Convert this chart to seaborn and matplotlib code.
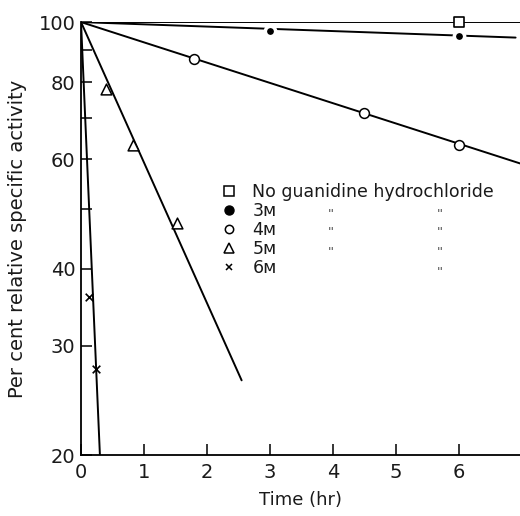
import matplotlib
matplotlib.use("Agg")
import matplotlib.pyplot as plt
import seaborn as sns
import pandas as pd
from matplotlib.lines import Line2D
from matplotlib.ticker import FixedLocator, NullFormatter, FixedFormatter

# ---- data ----
series = ["none", "3M", "4M", "5M", "6M"]
legend_labels = ["No guanidine hydrochloride", "3м", "4м", "5м", "6м"]

pts_none_x = [6.0]
pts_none_y = [100.0]
pts_3m_x = [3.0, 6.0]
pts_3m_y = [96.7, 94.9]
pts_4m_x = [1.8, 4.5, 6.0]
pts_4m_y = [87.1, 71.3, 63.3]
pts_5m_x = [0.4, 0.82, 1.52]
pts_5m_y = [78.0, 63.3, 47.3]
pts_6m_x = [0.12, 0.24]
pts_6m_y = [36.0, 27.5]

fit_none_x = [0.0, 7.0]
fit_none_y = [100.0, 100.0]
fit_3m_x = [0.0, 6.9]
fit_3m_y = [100.0, 94.4]
fit_4m_x = [0.0, 7.0]
fit_4m_y = [100.0, 59.0]
fit_5m_x = [0.0, 2.55]
fit_5m_y = [100.0, 26.4]
fit_6m_x = [0.0, 0.30]
fit_6m_y = [100.0, 20.0]

x_ticks = [0, 1, 2, 3, 4, 5, 6]
y_major = [20, 30, 40, 60, 80, 100]
y_minor = [50, 70, 90]

# ---- style ----
sns.set_theme(style="white")
plt.rcParams['font.family'] = ['DejaVu Sans']

fig = plt.figure(figsize=(5.2, 5.16), dpi=100)
ax = fig.add_axes([0.1558, 0.1182, 0.8442, 0.8390])

fits = pd.DataFrame({
    "x": fit_none_x + fit_3m_x + fit_4m_x + fit_5m_x + fit_6m_x,
    "y": fit_none_y + fit_3m_y + fit_4m_y + fit_5m_y + fit_6m_y,
    "s": ["none"] * 2 + ["3M"] * 2 + ["4M"] * 2 + ["5M"] * 2 + ["6M"] * 2,
})
sns.lineplot(data=fits, x="x", y="y", units="s", estimator=None, sort=False,
             color="black", lw=1.4, ax=ax, legend=False, zorder=2)

marker_specs = {
    "none": dict(marker="s", facecolor="white", edgecolor="black", s=60, linewidth=1.2),
    "3M": dict(marker="o", facecolor="black", edgecolor="white", s=55, linewidth=2.5),
    "4M": dict(marker="o", facecolor="white", edgecolor="black", s=50, linewidth=1.1),
    "5M": dict(marker="^", facecolor="white", edgecolor="black", s=60, linewidth=1.1),
    "6M": dict(marker="x", color="black", s=30, linewidth=1.2),
}
pts = {
    "none": (pts_none_x, pts_none_y),
    "3M": (pts_3m_x, pts_3m_y),
    "4M": (pts_4m_x, pts_4m_y),
    "5M": (pts_5m_x, pts_5m_y),
    "6M": (pts_6m_x, pts_6m_y),
}
for k in series:
    px, py = pts[k]
    sns.scatterplot(x=px, y=py, ax=ax, zorder=3, clip_on=False, legend=False,
                    **marker_specs[k])

ax.set_yscale("log")
ax.set_xlim(0, 6.97)
ax.set_ylim(20, 100)

ax.xaxis.set_major_locator(FixedLocator(x_ticks))
ax.set_xticklabels([str(t) for t in x_ticks])
ax.yaxis.set_major_locator(FixedLocator(y_major))
ax.yaxis.set_major_formatter(FixedFormatter([str(t) for t in y_major]))
ax.yaxis.set_minor_locator(FixedLocator(y_minor))
ax.yaxis.set_minor_formatter(NullFormatter())

ax.tick_params(axis="both", which="both", direction="in", length=8, width=1.1,
               color="black", labelsize=14, labelcolor="#1a1a1a", pad=4,
               bottom=True, left=True, top=False, right=False)
ax.tick_params(axis="x", pad=6)

for side in ["top", "right"]:
    ax.spines[side].set_visible(False)
for side in ["left", "bottom"]:
    ax.spines[side].set_color("black")
    ax.spines[side].set_linewidth(1.3)

ax.set_xlabel("Time (hr)", fontsize=13, color="#1a1a1a", labelpad=6)
ax.set_ylabel("Per cent relative specific activity", fontsize=14, color="#1a1a1a", labelpad=8)

# ---- legend ----
handles = [
    Line2D([], [], ls="none", marker="s", mfc="white", mec="black", ms=6.5, mew=1.1),
    Line2D([], [], ls="none", marker="o", mfc="black", mec="black", ms=6.5),
    Line2D([], [], ls="none", marker="o", mfc="white", mec="black", ms=6, mew=1.1),
    Line2D([], [], ls="none", marker="^", mfc="white", mec="black", ms=6.5, mew=1.1),
    Line2D([], [], ls="none", marker="x", color="black", ms=5, mew=1.1),
]
leg = ax.legend(handles, legend_labels, loc="upper left",
                bbox_to_anchor=(0.321, 0.628), frameon=False, fontsize=12.5,
                handlelength=0.8, handletextpad=0.95, labelspacing=0.06,
                borderaxespad=0, borderpad=0)
for t in leg.get_texts():
    t.set_color("#1a1a1a")

# ditto marks
ditto_rows = [214, 233, 252, 272]
ditto_cols = [[331, 440], [331, 440], [331, 440], [440]]
for yy, cols in zip(ditto_rows, ditto_cols):
    for xx in cols:
        fig.text(xx / 520, 1 - yy / 516, "''", fontsize=9, color="#444444",
                 ha="center", va="center")

fig.savefig("out.png", dpi=100)
